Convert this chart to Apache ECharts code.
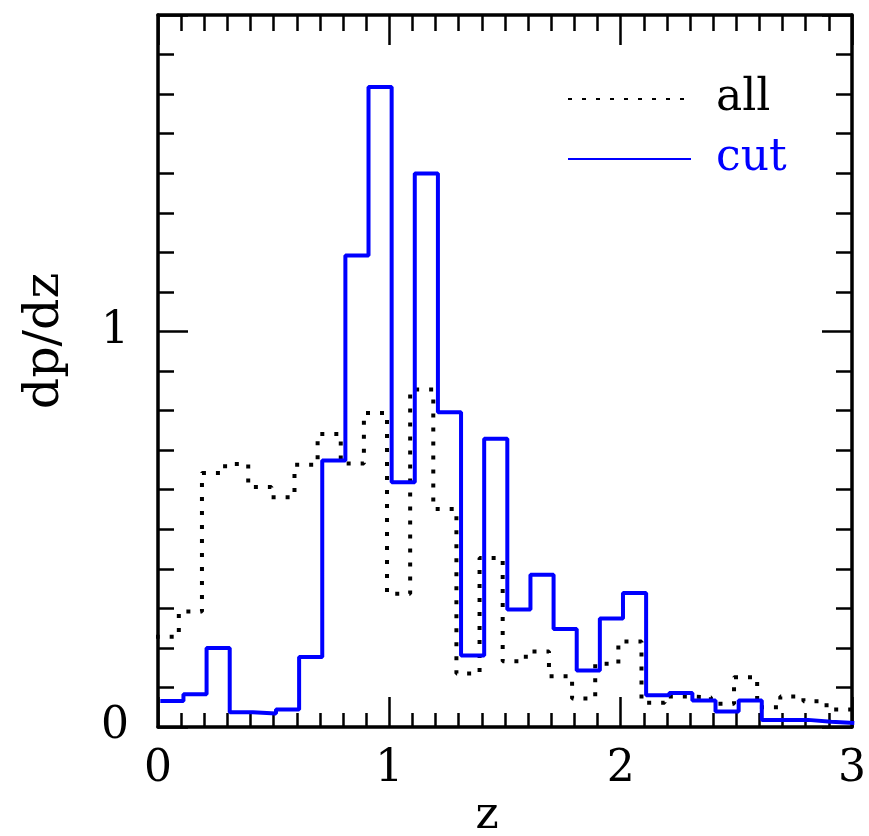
<!DOCTYPE html>
<html>
<head>
<meta charset="utf-8">
<script src="https://cdn.jsdelivr.net/npm/echarts@6/dist/echarts.min.js"></script>
<style>html,body{margin:0;padding:0;background:#fff}#c{width:869px;height:836px}</style>
</head>
<body>
<div id="c"></div>
<script>
// Histogram bin width and bin start offsets (the two histograms are slightly offset)
var binWidth = 0.1;
var allOffset = -0.01;
var cutOffset = 0.01;

// dp/dz values per bin, "all" sample (dotted)
var allValues = [0.228, 0.292, 0.642, 0.665, 0.607, 0.581, 0.663, 0.741, 0.666, 0.794,
                 0.337, 0.853, 0.551, 0.135, 0.427, 0.166, 0.191, 0.128, 0.072, 0.160,
                 0.216, 0.061, 0.077, 0.075, 0.059, 0.126, 0.050, 0.077, 0.065, 0.044, 0.044];
// dp/dz values per bin, "cut" sample (blue solid)
var cutValues = [0.066, 0.083, 0.200, 0.037, 0.034, 0.044, 0.177, 0.674, 1.192, 1.618,
                 0.619, 1.399, 0.796, 0.181, 0.729, 0.297, 0.385, 0.248, 0.143, 0.274,
                 0.339, 0.080, 0.086, 0.067, 0.039, 0.067, 0.018, 0.018, 0.013, 0.010];

var xTickLabels = ['0', '1', '2', '3'];
var yTickLabels = ['0', '1'];

function stepData(values, offset) {
  var d = [];
  for (var i = 0; i < values.length; i++) d.push([+(offset + i * binWidth).toFixed(4), values[i]]);
  d.push([+(offset + values.length * binWidth).toFixed(4), values[values.length - 1]]);
  return d;
}

var FONT = 'DejaVu Serif';
var chart = echarts.init(document.getElementById('c'));

function xAx(pos, interval, len, showLabel, showLine) {
  return {
    type: 'value', position: pos, min: 0, max: 3, interval: interval,
    axisLine: { show: showLine, onZero: false, lineStyle: { color: '#000', width: 3.5 } },
    axisTick: { show: true, inside: true, length: len, lineStyle: { color: '#000', width: 2.5 } },
    axisLabel: showLabel ? {
      show: true, margin: 21, color: '#000', fontFamily: FONT, fontSize: 44,
      formatter: function (v) { var s = String(Math.round(v)); return (Math.abs(v - Math.round(v)) < 1e-6 && xTickLabels.indexOf(s) >= 0) ? s : ''; }
    } : { show: false },
    splitLine: { show: false }
  };
}
function yAx(pos, interval, len, showLabel, showLine) {
  return {
    type: 'value', position: pos, min: 0, max: 1.8, interval: interval,
    axisLine: { show: showLine, onZero: false, lineStyle: { color: '#000', width: 3.5 } },
    axisTick: { show: true, inside: true, length: len, lineStyle: { color: '#000', width: 2.5 } },
    axisLabel: showLabel ? {
      show: true, margin: 29, color: '#000', fontFamily: FONT, fontSize: 44,
      formatter: function (v) { var s = String(Math.round(v)); return (Math.abs(v - Math.round(v)) < 1e-6 && yTickLabels.indexOf(s) >= 0) ? s : ''; }
    } : { show: false },
    splitLine: { show: false }
  };
}

chart.setOption({
  animation: false,
  backgroundColor: '#fff',
  grid: { left: 158, right: 12, top: 15, bottom: 109, containLabel: false },
  xAxis: [
    xAx('bottom', 1, 30, true, true),
    xAx('bottom', 0.1, 14, false, false),
    xAx('top', 0.1, 16, false, true),
    xAx('top', 1, 30, false, false)
  ],
  yAxis: [
    yAx('left', 1, 30, true, true),
    yAx('left', 0.1, 16, false, false),
    yAx('right', 0.1, 16, false, true),
    yAx('right', 1, 30, false, false)
  ],
  legend: {
    show: true, orient: 'vertical', left: 562, top: 72,
    itemWidth: 123, itemHeight: 14, itemGap: 16,
    selectedMode: false,
    itemStyle: { opacity: 0 },
    data: [
      { name: 'all', textStyle: { color: '#000' } },
      { name: 'cut', textStyle: { color: '#0000ff' } }
    ],
    textStyle: { fontFamily: FONT, fontSize: 44, lineHeight: 44, padding: [0, 0, 0, 20] }
  },
  graphic: [
    { type: 'text', x: 487, y: 817,
      style: { text: 'z', fontFamily: FONT, fontSize: 44, fill: '#000', align: 'center', verticalAlign: 'middle' } },
    { type: 'text', x: 45, y: 341, rotation: Math.PI / 2,
      style: { text: 'dp/dz', fontFamily: FONT, fontSize: 49, fill: '#000', align: 'center', verticalAlign: 'middle' } }
  ],
  series: [
    {
      name: 'all', type: 'line', step: 'end', xAxisIndex: 0, yAxisIndex: 0,
      data: stepData(allValues, allOffset), showSymbol: false, symbol: 'none',
      lineStyle: { color: '#000', width: 4, type: [4, 10], cap: 'butt' },
      itemStyle: { color: '#000' }, clip: true, z: 2
    },
    {
      name: 'cut', type: 'line', step: 'end', xAxisIndex: 0, yAxisIndex: 0,
      data: stepData(cutValues, cutOffset), showSymbol: false, symbol: 'none',
      lineStyle: { color: '#0000ff', width: 4, type: 'solid' },
      itemStyle: { color: '#0000ff' }, clip: true, z: 3
    }
  ]
});
</script>
</body>
</html>
